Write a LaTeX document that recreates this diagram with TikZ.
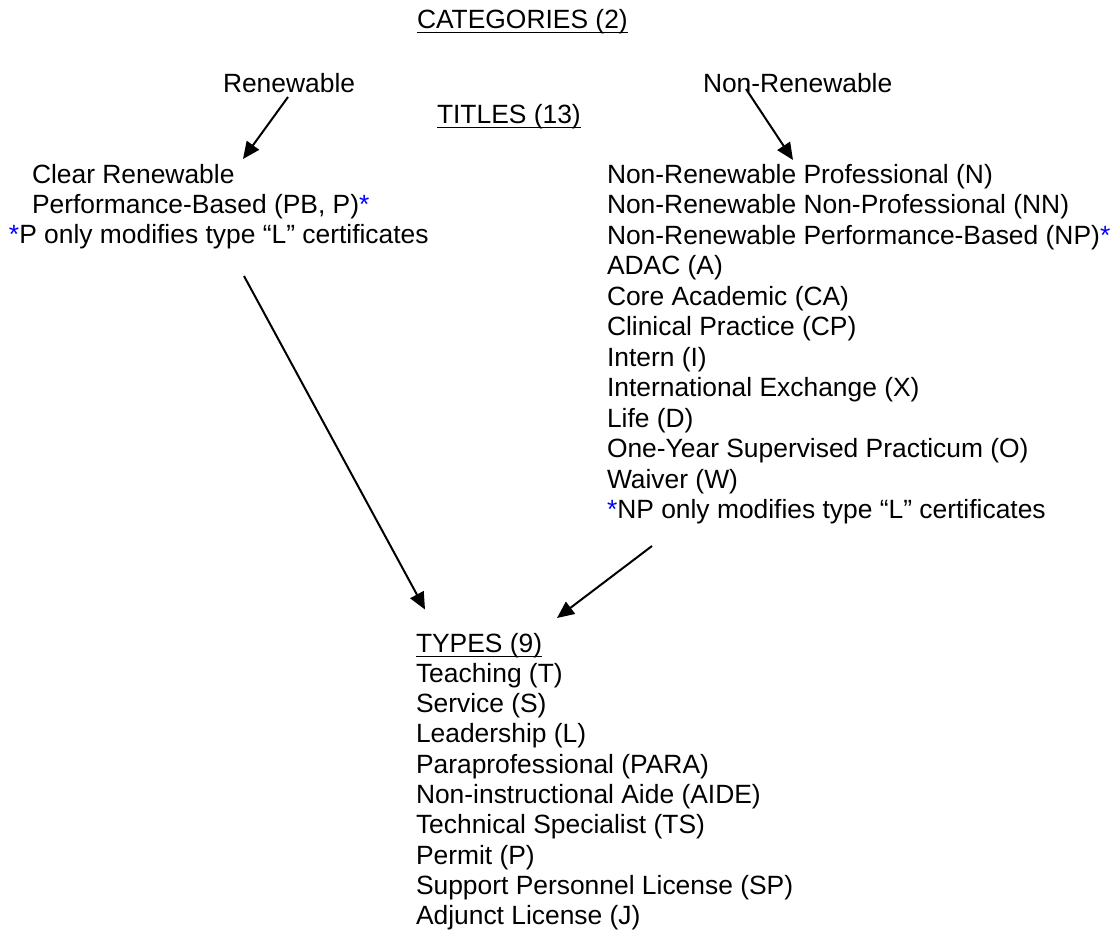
\documentclass[tikz,border=0pt]{standalone}
\usepackage{fontspec}
\setmainfont{Liberation Sans}
\usetikzlibrary{arrows.meta}
\definecolor{astblue}{RGB}{0,0,255}
\newcommand{\bluestar}{\textcolor{astblue}{*}}
\begin{document}
\begin{tikzpicture}[x=1pt,y=-1pt,
  lbl/.style={anchor=base west, inner sep=0pt, outer sep=0pt, font=\fontsize{26.4pt}{30.4pt}\selectfont},
  ul/.style={line width=1.8pt},
  arr/.style={line width=2pt, -{Triangle[length=17pt,width=15pt]}}]
\useasboundingbox (0,0) rectangle (1119,935);
% headings
\node[lbl] (cat) at (417,28) {CATEGORIES (2)};
\draw[ul] ([yshift=-4.5pt]cat.base west) -- ([yshift=-4.5pt]cat.base east);
\node[lbl] (ren) at (223,92) {Renewable};
\node[lbl] (nren) at (703,92) {Non-Renewable};
\node[lbl] (tit) at (437,123) {TITLES (13)};
\draw[ul] ([yshift=-4.5pt]tit.base west) -- ([yshift=-4.5pt]tit.base east);
% left column
\node[lbl] (l1) at (32,183) {Clear Renewable};
\node[lbl] (l2) at (32,213) {Performance-Based (PB, P)\bluestar};
\node[lbl] (l3) at (9,243) {\bluestar P only modifies type “L” certificates};
% right column
\node[lbl] (r1) at (607,183) {Non-Renewable Professional (N)};
\node[lbl] (r2) at (607,213.5) {Non-Renewable Non-Professional (NN)};
\node[lbl] (r3) at (607,244) {Non-Renewable Performance-Based (NP)\bluestar};
\node[lbl] (r4) at (607,274.5) {ADAC (A)};
\node[lbl] (r5) at (607,305) {Core Academic (CA)};
\node[lbl] (r6) at (607,335.5) {Clinical Practice (CP)};
\node[lbl] (r7) at (607,366) {Intern (I)};
\node[lbl] (r8) at (607,396.5) {International Exchange (X)};
\node[lbl] (r9) at (607,427) {Life (D)};
\node[lbl] (r10) at (607,457.5) {One-Year Supervised Practicum (O)};
\node[lbl] (r11) at (607,488) {Waiver (W)};
\node[lbl] (r12) at (607,518.5) {\bluestar NP only modifies type “L” certificates};
% types
\node[lbl] (ty0) at (416,652) {TYPES (9)};
\draw[ul] ([yshift=-4.5pt]ty0.base west) -- ([yshift=-4.5pt]ty0.base east);
\node[lbl] (ty1) at (416,682.3) {Teaching (T)};
\node[lbl] (ty2) at (416,712.6) {Service (S)};
\node[lbl] (ty3) at (416,742.9) {Leadership (L)};
\node[lbl] (ty4) at (416,773.2) {Paraprofessional (PARA)};
\node[lbl] (ty5) at (416,803.5) {Non-instructional Aide (AIDE)};
\node[lbl] (ty6) at (416,833.8) {Technical Specialist (TS)};
\node[lbl] (ty7) at (416,864.1) {Permit (P)};
\node[lbl] (ty8) at (416,894.4) {Support Personnel License (SP)};
\node[lbl] (ty9) at (416,924.7) {Adjunct License (J)};
% arrow end points
\coordinate (a1s) at (288,97);
\coordinate (a1e) at (243,159);
\coordinate (a2s) at (746,89);
\coordinate (a2e) at (793,160);
\coordinate (a3s) at (244,276);
\coordinate (a3e) at (425,609.5);
\coordinate (a4s) at (652,546);
\coordinate (a4e) at (557,618);
\draw[arr] (a1s) -- (a1e);
\draw[arr] (a2s) -- (a2e);
\draw[arr] (a3s) -- (a3e);
\draw[arr] (a4s) -- (a4e);
\end{tikzpicture}
\end{document}
